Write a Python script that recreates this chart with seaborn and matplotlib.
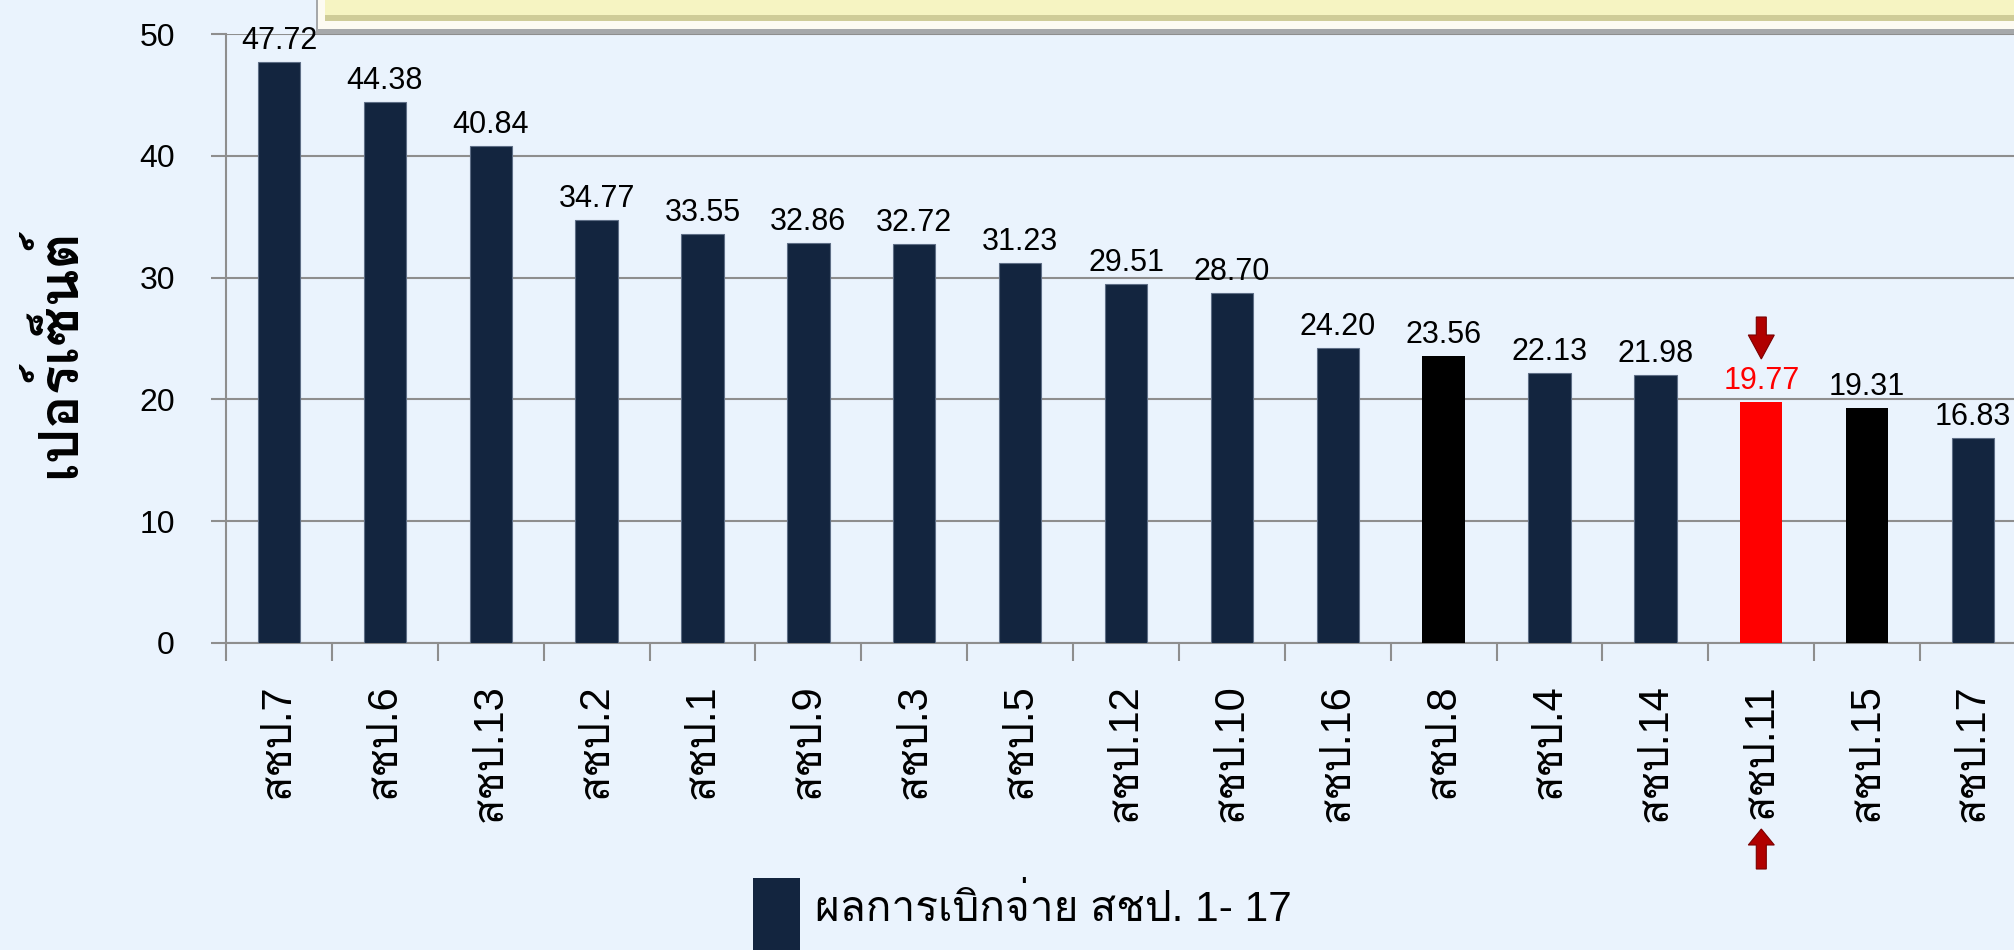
import matplotlib
matplotlib.use("Agg")
import matplotlib.pyplot as plt
import matplotlib.patches as mpatches
from matplotlib.transforms import IdentityTransform
import numpy as np
import pandas as pd
import seaborn as sns

# Disbursement results by irrigation office (percent)
offices = ["สชป.7", "สชป.6", "สชป.13", "สชป.2", "สชป.1", "สชป.9", "สชป.3", "สชป.5",
           "สชป.12", "สชป.10", "สชป.16", "สชป.8", "สชป.4", "สชป.14", "สชป.11",
           "สชป.15", "สชป.17"]
percent = [47.72, 44.38, 40.84, 34.77, 33.55, 32.86, 32.72, 31.23,
           29.51, 28.70, 24.20, 23.56, 22.13, 21.98, 19.77, 19.31, 16.83]
dark_offices = ["สชป.8", "สชป.15"]
focus_office = "สชป.11"
series_label = "ผลการเบิกจ่าย สชป. 1- 17"
y_label = "เปอร์เซ็นต์"
y_ticks = [0, 10, 20, 30, 40, 50]

NAVY = "#13253F"
BLACK = "#000000"
RED = "#FF0000"
BG = "#EAF3FD"
GRID = "#8E8E8E"
ARROW = "#B00000"

W, H, DPI = 2015, 950, 100
PX = 72.0 / DPI  # points per pixel

sns.set_theme(style="white")
# Latin glyphs from Liberation Sans, Thai glyphs fall back to Loma
plt.rcParams["font.family"] = ["Liberation Sans", "Loma"]
plt.rcParams["text.color"] = "black"
plt.rcParams["axes.labelcolor"] = "black"
plt.rcParams["xtick.labelcolor"] = "black"
plt.rcParams["ytick.labelcolor"] = "black"

df = pd.DataFrame({"office": offices, "percent": percent})
palette = {o: (RED if o == focus_office else BLACK if o in dark_offices else NAVY)
           for o in offices}

fig = plt.figure(figsize=(W / DPI, H / DPI), dpi=DPI, facecolor=BG)
ax_left, ax_right = 226, 2026
ax_top, ax_bottom = 34, 643
ax = fig.add_axes([ax_left / W, 1 - ax_bottom / H,
                   (ax_right - ax_left) / W, (ax_bottom - ax_top) / H])
ax.set_facecolor(BG)

sns.barplot(data=df, x="office", y="percent", hue="office", palette=palette,
            order=offices, hue_order=offices, width=0.4, legend=False,
            saturation=1, ax=ax, zorder=3)
for bar, o in zip(ax.patches, offices):
    if palette[o] == NAVY:
        bar.set_edgecolor("#5E6E86")
        bar.set_linewidth(0.8)
    else:
        bar.set_linewidth(0)

# value labels above bars
focus_value = percent[offices.index(focus_office)]
for cont in ax.containers:
    labels = ax.bar_label(cont, fmt="%.2f", padding=6 * PX, fontsize=22,
                          color="black")
    for t, bar in zip(labels, cont):
        if abs(bar.get_height() - focus_value) < 1e-9:
            t.set_color(RED)

ax.set_xlim(-0.5, len(offices) - 0.5)
ax.set_ylim(0, 50)
ax.set_yticks(y_ticks)
ax.yaxis.grid(True, color=GRID, linewidth=1.5, zorder=0)
ax.set_axisbelow(True)
for side in ("top", "right"):
    ax.spines[side].set_visible(False)
for side in ("left", "bottom"):
    ax.spines[side].set_color(GRID)
    ax.spines[side].set_linewidth(1.5)

ax.tick_params(axis="y", which="major", length=15 * PX, width=1.5, color=GRID,
               direction="out", pad=36 * PX, labelsize=23, left=True)
ax.set_xticks(np.arange(-0.5, len(offices), 1.0), minor=True)
ax.tick_params(axis="x", which="minor", length=18 * PX, width=1.5, color=GRID,
               direction="out", bottom=True)
ax.tick_params(axis="x", which="major", length=0, pad=41 * PX, labelsize=30,
               labelrotation=90)
for lbl in ax.get_xticklabels():
    lbl.set_va("top")
ax.set_xlabel("")

ax.set_ylabel(y_label, fontsize=40, fontweight="bold", va="center")
ax.yaxis.set_label_coords((58 - ax_left) / (ax_right - ax_left),
                          (ax_bottom - 353) / (ax_bottom - ax_top))

# callout box along the top edge
fig.add_artist(mpatches.Rectangle((316, H - 34), W, 40, transform=IdentityTransform(),
                                  facecolor="#A6A8AA", edgecolor="none", zorder=5))
fig.add_artist(mpatches.Rectangle((318, H - 29), W, 40, transform=IdentityTransform(),
                                  facecolor="#FDFBF2", edgecolor="none", zorder=6))
fig.add_artist(mpatches.Rectangle((325, H - 21), W, 30, transform=IdentityTransform(),
                                  facecolor="#CFCC98", edgecolor="none", zorder=7))
fig.add_artist(mpatches.Rectangle((325, H - 15), W, 20, transform=IdentityTransform(),
                                  facecolor="#F6F4C2", edgecolor="none", zorder=8))

# arrows marking the focus office
xc = ax.transData.transform((offices.index(focus_office), 0))[0]


def arrow(tip_y, tail_y, shaft_w=10, head_w=26, head_len=24):
    d = 1 if tail_y > tip_y else -1
    neck = tip_y + d * head_len
    pts = [(xc, tip_y), (xc - head_w / 2, neck), (xc - shaft_w / 2, neck),
           (xc - shaft_w / 2, tail_y), (xc + shaft_w / 2, tail_y),
           (xc + shaft_w / 2, neck), (xc + head_w / 2, neck)]
    pts = [(x, H - y) for x, y in pts]
    fig.add_artist(mpatches.Polygon(pts, closed=True, transform=IdentityTransform(),
                                    facecolor=ARROW, edgecolor="#7A0000",
                                    linewidth=0.8, zorder=9))


arrow(359, 317)
arrow(829, 869, head_len=16)

# legend
fig.add_artist(mpatches.Rectangle((753, H - 960), 47, 82, transform=IdentityTransform(),
                                  facecolor=NAVY, edgecolor="none", zorder=4))
fig.text(815 / W, 1 - 921 / H, series_label, fontsize=30.5, ha="left", va="baseline")

fig.savefig("out.png", dpi=DPI, facecolor=BG)
